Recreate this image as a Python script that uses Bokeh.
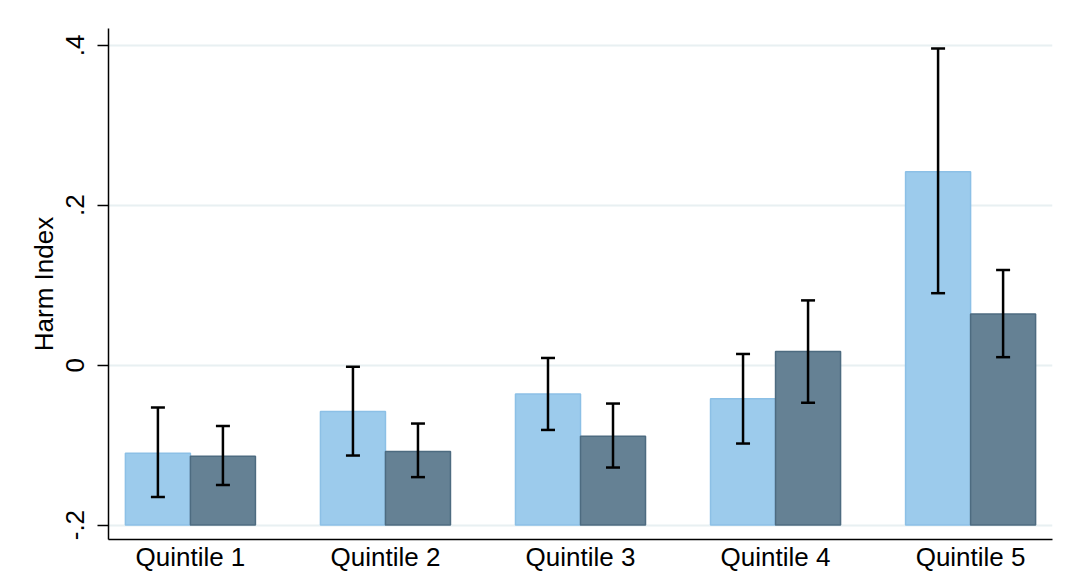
from bokeh.plotting import figure
from bokeh.models import Range1d, FixedTicker, Whisker, ColumnDataSource, TeeHead
from bokeh.embed import file_html
from bokeh.resources import INLINE

categories = ["Quintile 1", "Quintile 2", "Quintile 3", "Quintile 4", "Quintile 5"]
light_mean = [-0.110, -0.058, -0.036, -0.042, 0.242]
light_lo = [-0.165, -0.113, -0.081, -0.098, 0.090]
light_hi = [-0.053, -0.002, 0.009, 0.014, 0.396]
dark_mean = [-0.114, -0.108, -0.089, 0.017, 0.064]
dark_lo = [-0.150, -0.140, -0.128, -0.047, 0.010]
dark_hi = [-0.076, -0.073, -0.048, 0.081, 0.119]
y_ticks = [-0.2, 0.0, 0.2, 0.4]
y_tick_labels = ["-.2", "0", ".2", ".4"]
base = -0.2

FONT = "Liberation Sans"

p = figure(width=1072, height=574, output_backend="svg", toolbar_location=None,
           x_range=Range1d(0.58, 5.42), y_range=Range1d(-0.218, 0.421),
           min_border_left=108, min_border_right=20, min_border_top=28, min_border_bottom=0)
p.outline_line_color = None
p.background_fill_color = "white"

pos = [i + 1 for i in range(len(categories))]
off = 1.0 / 6
w = 1.0 / 3

src_l = ColumnDataSource(dict(x=[q - off for q in pos], top=light_mean, lo=light_lo, hi=light_hi,
                              bottom=[base] * len(pos)))
src_d = ColumnDataSource(dict(x=[q + off for q in pos], top=dark_mean, lo=dark_lo, hi=dark_hi,
                              bottom=[base] * len(pos)))

p.vbar(x="x", top="top", bottom="bottom", width=w, source=src_l,
       fill_color="#9ccbec", line_color="#8cc0e6", line_width=1.5)
p.vbar(x="x", top="top", bottom="bottom", width=w, source=src_d,
       fill_color="#658194", line_color="#4d6b80", line_width=1.5)

for src in (src_l, src_d):
    wk = Whisker(base="x", lower="lo", upper="hi", source=src, dimension="height",
                 line_color="black", line_width=2.5, level="overlay",
                 upper_head=TeeHead(size=14, line_color="black", line_width=2.5),
                 lower_head=TeeHead(size=14, line_color="black", line_width=2.5))
    p.add_layout(wk)

# grid
p.xgrid.visible = False
p.ygrid.ticker = FixedTicker(ticks=y_ticks)
p.ygrid.grid_line_color = "#e8f0f2"
p.ygrid.grid_line_width = 2

# y axis
p.yaxis.ticker = FixedTicker(ticks=y_ticks)
p.yaxis.major_label_overrides = {t: l for t, l in zip(y_ticks, y_tick_labels)}
p.yaxis.major_label_orientation = "vertical"
p.yaxis.major_label_text_font = FONT
p.yaxis.major_label_text_font_size = "26px"
p.yaxis.major_label_text_color = "black"
p.yaxis.major_tick_out = 11
p.yaxis.major_tick_in = 0
p.yaxis.minor_tick_line_color = None
p.yaxis.major_tick_line_color = "black"
p.yaxis.major_tick_line_width = 1.5
p.yaxis.axis_line_color = "black"
p.yaxis.axis_line_width = 1.5
p.yaxis.axis_label = "Harm Index"
p.yaxis.axis_label_text_font = FONT
p.yaxis.axis_label_text_font_size = "26px"
p.yaxis.axis_label_text_font_style = "normal"
p.yaxis.axis_label_text_color = "black"
p.yaxis.major_label_standoff = 13
p.yaxis.axis_label_standoff = 5

# x axis
p.xaxis.ticker = FixedTicker(ticks=pos)
p.xaxis.major_label_overrides = {q: c for q, c in zip(pos, categories)}
p.xaxis.major_label_text_font = FONT
p.xaxis.major_label_text_font_size = "26px"
p.xaxis.major_label_text_color = "black"
p.xaxis.major_label_standoff = 2
p.xaxis.axis_line_color = "black"
p.xaxis.axis_line_width = 1.5
p.xaxis.major_tick_line_color = None
p.xaxis.major_tick_out = 0
p.xaxis.major_tick_in = 0
p.xaxis.minor_tick_line_color = None

open("out.html", "w").write(file_html(p, INLINE))
